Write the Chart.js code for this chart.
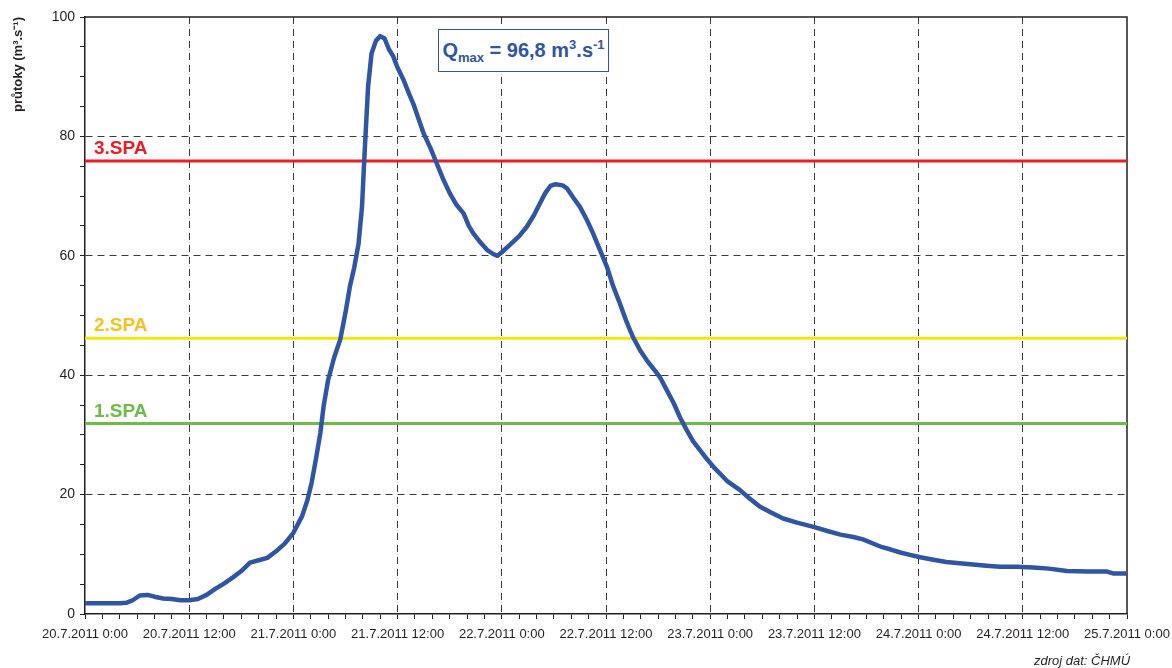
<!DOCTYPE html>
<html>
<head>
<meta charset="utf-8">
<script src="https://cdn.jsdelivr.net/npm/chart.js@4/dist/chart.umd.min.js"></script>
<style>
  html, body { margin: 0; padding: 0; background: #ffffff; }
  #wrap { position: relative; width: 1172px; height: 668px; }
  #qmax {
    position: absolute; left: 438px; top: 29px; width: 169px; height: 41px;
    border: 1.5px solid #2f55a4; color: #2f55a4;
    font: bold 20px "Liberation Sans", Arial, sans-serif;
    line-height: 41px; text-align: center; white-space: nowrap; background: #ffffff;
  }
  #qmax sub { font-size: 13px; vertical-align: -5px; line-height: 0; }
  #qmax sup { font-size: 13px; vertical-align: 8px; line-height: 0; }
  #source {
    position: absolute; left: 1034px; top: 653px;
    font: italic 13px "Liberation Sans", Arial, sans-serif; color: #231f20;
  }
</style>
</head>
<body>
<div id="wrap">
  <canvas id="c" width="1172" height="668"></canvas>
  <div id="qmax">Q<sub>max</sub> = <span id="qval"></span> m<sup>3</sup>.s<sup>-1</sup></div>
  <div id="source">zdroj dat: ČHMÚ</div>
</div>
<script>
// hours since 20.7.2011 0:00
const hours = [0,1,2,3,4,4.8,5.5,6.3,7.2,8,9,10,11,12,13,14,15,16,17,18,19,20,21,22,23,24,25,25.6,26.1,26.6,27.1,27.5,28,28.7,29.4,30,30.5,31,31.5,31.9,32.2,32.6,33,33.5,34,34.5,35,35.5,36,36.7,37.3,37.8,38.4,39,39.8,40.5,41.2,42,42.8,43.6,44.2,44.7,45.5,46.3,47,47.5,48,48.9,50,50.9,51.7,52.4,53,53.6,54.2,55,55.5,56.2,57,57.8,58.5,59.3,60.1,60.8,61.6,62.3,63.1,64,64.7,65.5,66.2,67,67.8,68.5,69.3,70,70.8,71.6,72.4,73.2,74,74.7,75.4,76.5,77.7,79,80.4,82,83.9,85.5,87,88.5,89.6,90.6,91.6,92.8,93.9,95,96.2,97.7,99.2,100.7,102.3,103.8,105.4,107.3,109.2,111,113.1,115.5,117.7,118.4,120];
// discharge m3/s
const flow = [1.8,1.8,1.8,1.8,1.8,1.9,2.3,3.1,3.2,2.9,2.6,2.5,2.3,2.3,2.5,3.2,4.2,5.1,6.1,7.2,8.6,9.0,9.4,10.5,11.8,13.6,16.4,19,22,26,30.3,35,39.2,43,46,50.5,54.8,58,62,68.2,77.2,88.3,93.9,96,96.8,96.4,94.6,93.4,91.5,89.4,87.2,85.5,83,80.5,78,75.5,73,70.5,68.5,67.1,65,63.8,62.3,61.0,60.3,60.0,60.6,61.8,63.3,64.9,66.8,68.8,70.5,71.7,72,71.8,71.3,69.8,68.2,66,63.8,61,58.2,55,52.0,49.2,46.4,44,42.5,41,39.7,37.5,35.3,33,30.8,29,27.5,26,24.6,23.4,22.2,21.5,20.8,19.4,18.0,17,16.0,15.3,14.6,13.9,13.3,12.9,12.5,11.9,11.3,10.8,10.3,9.9,9.5,9.1,8.7,8.5,8.3,8.1,7.9,7.9,7.8,7.6,7.2,7.1,7.1,6.8,6.8];

const spaNames = ['1.SPA','2.SPA','3.SPA'];
const spaValues = [31.9, 46.2, 75.9];
const spaLineColors = ['#6cbd45', '#f2e60f', '#ee1c25'];
const spaTextColors = ['#6cbd45', '#f7c21b', '#ee1c25'];

const xTickLabels = ['20.7.2011 0:00','20.7.2011 12:00','21.7.2011 0:00','21.7.2011 12:00','22.7.2011 0:00','22.7.2011 12:00','23.7.2011 0:00','23.7.2011 12:00','24.7.2011 0:00','24.7.2011 12:00','25.7.2011 0:00'];
const yTicks = [0,20,40,60,80,100];
const qMax = 96.8;

document.getElementById('qval').textContent = String(qMax).replace('.', ',');

const FONT = '"Liberation Sans", Arial, sans-serif';
const TEXT = '#231f20';
const GRID = '#3a3a3a';

const flowData = hours.map((h, i) => ({x: h, y: flow[i]}));
const spaDatasets = spaValues.map((v, i) => ({
  label: spaNames[i],
  data: [{x: 0, y: v}, {x: 120, y: v}],
  borderColor: spaLineColors[i],
  borderWidth: 3,
  pointRadius: 0,
  order: 2
}));

const framePlugin = {
  id: 'frame',
  beforeDatasetsDraw(chart) {
    const {ctx, chartArea: a} = chart;
    ctx.save();
    ctx.strokeStyle = TEXT;
    ctx.lineWidth = 1.5;
    ctx.beginPath();
    ctx.moveTo(a.left, a.top);
    ctx.lineTo(a.right, a.top);
    ctx.lineTo(a.right, a.bottom);
    ctx.stroke();
    ctx.restore();
  }
};

const spaLabelPlugin = {
  id: 'spaLabels',
  afterDatasetsDraw(chart) {
    const {ctx, chartArea: a, scales} = chart;
    ctx.save();
    ctx.font = 'bold 19px ' + FONT;
    ctx.textAlign = 'left';
    ctx.textBaseline = 'alphabetic';
    spaValues.forEach((v, i) => {
      ctx.fillStyle = spaTextColors[i];
      ctx.fillText(spaNames[i], a.left + 9, scales.y.getPixelForValue(v) - 7);
    });
    ctx.restore();
  }
};

new Chart(document.getElementById('c'), {
  type: 'line',
  data: {
    datasets: [
      {
        label: 'průtoky',
        data: flowData,
        borderColor: '#2f55a4',
        borderWidth: 4.5,
        pointRadius: 0,
        tension: 0,
        borderJoinStyle: 'round',
        borderCapStyle: 'round',
        order: 1
      },
      ...spaDatasets
    ]
  },
  options: {
    responsive: false,
    animation: false,
    devicePixelRatio: 1,
    layout: { padding: { left: 0, right: 45, top: 17, bottom: 0 } },
    plugins: { legend: { display: false }, tooltip: { enabled: false } },
    scales: {
      x: {
        type: 'linear',
        min: 0, max: 120,
        afterFit(s) { s.height = 54; s.paddingLeft = 0; s.paddingRight = 0; },
        afterBuildTicks(s) {
          const t = [];
          for (let v = 0; v <= 120; v += 2) t.push({value: v});
          s.ticks = t;
        },
        ticks: {
          autoSkip: false, maxRotation: 0, minRotation: 0,
          padding: 8, color: TEXT,
          font: { family: FONT, size: 13 },
          callback: (v) => (v % 12 === 0 ? xTickLabels[v / 12] : '')
        },
        grid: {
          lineWidth: 1,
          color: (c) => (c.tick && c.tick.value % 12 === 0 && c.tick.value !== 0 && c.tick.value !== 120) ? GRID : 'rgba(0,0,0,0)',
          tickColor: TEXT,
          tickLength: 5,
          tickWidth: 1
        },
        border: { display: true, color: TEXT, width: 1.5, dash: [7, 5] }
      },
      y: {
        min: 0, max: 100,
        afterFit(s) { s.width = 85; s.paddingTop = 0; s.paddingBottom = 0; },
        afterBuildTicks(s) {
          const t = [];
          for (let v = 0; v <= 100; v += 5) t.push({value: v});
          s.ticks = t;
        },
        ticks: {
          padding: 5, color: TEXT,
          font: { family: FONT, size: 14 },
          callback: (v) => (yTicks.includes(v) ? String(v) : '')
        },
        grid: {
          lineWidth: 1,
          color: (c) => (c.tick && c.tick.value % 20 === 0 && c.tick.value !== 0 && c.tick.value !== 100) ? GRID : 'rgba(0,0,0,0)',
          tickColor: TEXT,
          tickLength: 5,
          tickWidth: 1
        },
        border: { display: true, color: TEXT, width: 1.5, dash: [7, 5] },
        title: {
          display: true,
          text: 'průtoky (m³.s⁻¹)',
          align: 'end',
          color: TEXT,
          font: { family: FONT, size: 13, weight: 'bold' },
          padding: { top: 11, bottom: 0 }
        }
      }
    }
  },
  plugins: [framePlugin, spaLabelPlugin]
});
</script>
</body>
</html>
